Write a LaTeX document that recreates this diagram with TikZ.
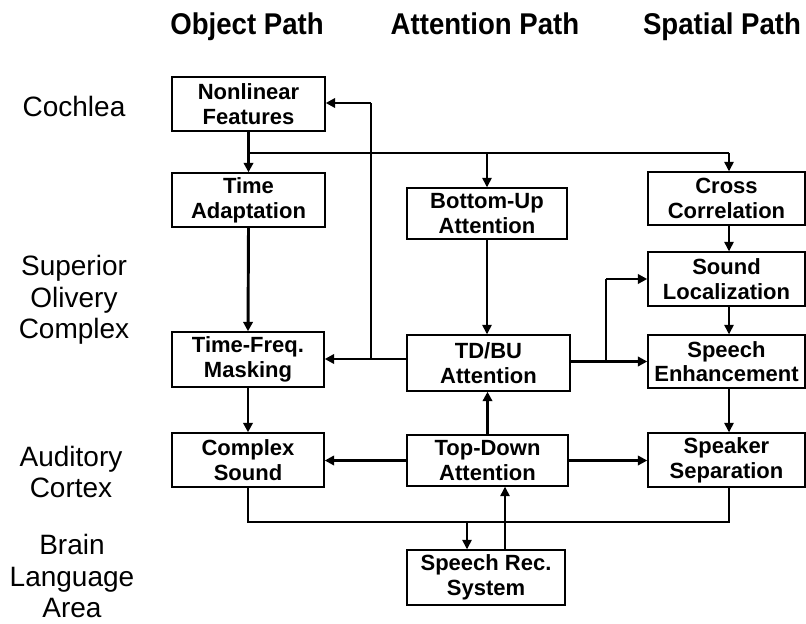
\documentclass[tikz,border=0pt]{standalone}
\usepackage{fontspec}
\setmainfont{Liberation Sans}
\usetikzlibrary{arrows.meta}

\begin{document}
\begin{tikzpicture}[x=0.75pt,y=-0.75pt,
  blk/.style={draw, line width=1.1pt, fill=white, align=center, inner sep=0pt,
    font=\bfseries\fontsize{16.5}{18.5}\selectfont},
  wh/.style 2 args={minimum width=#1*0.75pt, minimum height=#2*0.75pt},
  lvl/.style={align=center, font=\fontsize{21}{23.5}\selectfont},
  hdr/.style={anchor=base, font=\bfseries\fontsize{22.5}{24}\selectfont},
  thk/.style={line width=2.2pt},
  thn/.style={line width=1.1pt},
  arr/.style={-{Triangle[length=7pt,width=7pt]}},
]
\useasboundingbox (0,0) rectangle (806,624);

% column headings
\node[hdr] (hobj) at (247,35) {\scalebox{0.92}[1]{Object Path}};
\node[hdr] (hatt) at (485,35) {\scalebox{0.92}[1]{Attention Path}};
\node[hdr] (hspa) at (722,35) {\scalebox{0.92}[1]{Spatial Path}};

% processing levels
\node[lvl] (lcoch) at (74,106) {Cochlea};
\node[lvl] (lsoc)  at (74,300) {Superior\\Olivery\\Complex};
\node[lvl] (lac)   at (71,472) {Auditory\\Cortex};
\node[lvl] (lbla)  at (72,576) {Brain\\Language\\Area};

% object path
\node[blk, wh={153}{54}] (nf) at (248.5,104)   {Nonlinear\\Features};
\node[blk, wh={153}{54}] (ta) at (248.5,200)   {Time\\Adaptation};
\node[blk, wh={152}{55}] (tf) at (248,359.5)   {Time-Freq.\\Masking};
\node[blk, wh={152}{54}] (cs) at (248,460)     {Complex\\Sound};

% attention path
\node[blk, wh={160}{51}] (bu)   at (487,213.5) {Bottom-Up\\Attention};
\node[blk, wh={163}{56}] (tdbu) at (488.5,363) {TD/BU\\Attention};
\node[blk, wh={161}{51}] (td)   at (487.5,460.5) {Top-Down\\Attention};
\node[blk, wh={158}{55}] (sr)   at (486,577.5) {Speech Rec.\\System};

% spatial path
\node[blk, wh={157}{53}] (cc) at (726.5,198.5) {Cross\\Correlation};
\node[blk, wh={157}{54}] (sl) at (726.5,279)   {Sound\\Localization};
\node[blk, wh={157}{53}] (se) at (726.5,361.5) {Speech\\Enhancement};
\node[blk, wh={157}{54}] (ss) at (726.5,460)   {Speaker\\Separation};

% routing points
\coordinate (j1)  at (248.5,153);
\coordinate (sx)  at (729,153);
\coordinate (fb)  at (371,359);
\coordinate (fbt) at (371,103);
\coordinate (br)  at (606,361.5);
\coordinate (bot) at (248,522);
\coordinate (dn)  at (467,522);
\coordinate (up)  at (505,522);

% object path connectors
\draw[thk,arr] (nf.south) -- (ta.north);
\draw[thk,arr] (ta.south) -- (tf.north);
\draw[thk,arr] (tf.south) -- (cs.north);

% cochlea output to the three paths
\draw[thn] (j1) -- (sx);
\draw[thn,arr] (bu.north |- j1) -- (bu.north);
\draw[thn,arr] (sx) -- (sx |- cc.north);

% attention feedback to object path
\draw[thk,arr] (tdbu.west |- fb) -- (tf.east |- fb);
\draw[thn] (fb) -- (fbt);
\draw[thk,arr] (fbt) -- (nf.east |- fbt);

% attention path connectors
\draw[thn,arr] (bu.south) -- (bu.south |- tdbu.north);
\draw[thk,arr] (td.north) -- (td.north |- tdbu.south);
\draw[thk,arr] (td.west) -- (cs.east |- td.west);
\draw[thk,arr] (td.east) -- (ss.west |- td.east);

% attention to spatial path
\draw[thk,arr] (tdbu.east |- br) -- (se.west |- br);
\draw[thn] (br) -- (br |- sl.west);
\draw[thk,arr] (br |- sl.west) -- (sl.west);

% spatial path connectors
\draw[thn,arr] (sx |- cc.south) -- (sx |- sl.north);
\draw[thn,arr] (sx |- sl.south) -- (sx |- se.north);
\draw[thn,arr] (sx |- se.south) -- (sx |- ss.north);

% cortex outputs to speech recognition
\draw[thn] (cs.south) -- (bot) -- (sx |- bot) -- (sx |- ss.south);
\draw[thn,arr] (dn) -- (dn |- sr.north);
\draw[thn,arr] (up |- sr.north) -- (up |- td.south);
\end{tikzpicture}
\end{document}
